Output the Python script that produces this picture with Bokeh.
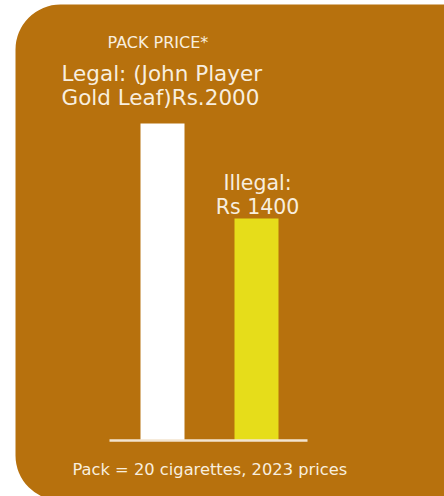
from bokeh.plotting import figure
from bokeh.models import Range1d, Label, BoxAnnotation
from bokeh.embed import file_html
from bokeh.resources import INLINE

# ---- data ----
categories = ["Legal", "Illegal"]
prices = [2000, 1400]
bar_colors = ["#FFFFFF", "#E6DD1A"]
title_text = "PACK PRICE*"
legal_lines = ["Legal: (John Player", "Gold Leaf)Rs.2000"]
illegal_lines = ["Illegal:", "Rs 1400"]
footer_text = "Pack = 20 cigarettes, 2023 prices"

# ---- layout ----
W, H = 444, 496
BG = "#B7710D"
TXT = "#F8EEDF"
FONT = "DejaVu Sans"

px_per_x = 94.0          # pixels per category step
x_start = -162.0 / px_per_x
x_end = x_start + W / px_per_x
k = 317.0 / max(prices)  # pixels per price unit
y_end = 440.0 / k
y_start = y_end - H / k

def px2x(px):
    return x_start + px / px_per_x

def px2y(py):
    return y_end - py / k

p = figure(width=W, height=H, output_backend="svg", toolbar_location=None,
           x_range=Range1d(x_start, x_end), y_range=Range1d(y_start, y_end),
           min_border=0, min_border_left=0, min_border_right=0,
           min_border_top=0, min_border_bottom=0)
p.axis.visible = False
p.grid.visible = False
p.outline_line_color = None
p.background_fill_color = "white"
p.border_fill_color = "white"

bg = BoxAnnotation(left=px2x(15), right=px2x(520), top=px2y(4), bottom=px2y(500),
                   fill_color=BG, fill_alpha=1.0, line_color=None,
                   border_radius=45, level="underlay")
p.add_layout(bg)

xs = list(range(len(categories)))
p.vbar(x=xs, top=prices, bottom=0, width=44 / px_per_x, fill_color=bar_colors,
       line_color=None)

# baseline
p.segment(x0=[px2x(109)], y0=[0], x1=[px2x(307)], y1=[0],
          line_color="#F3E4CF", line_width=2.5)

def lab(text, px, py, size, align="left"):
    p.add_layout(Label(x=px2x(px), y=px2y(py), text=text, text_font=FONT,
                       text_font_size=f"{size}px", text_color=TXT,
                       text_align=align, text_baseline="middle"))

lab(title_text, 107, 42, 16)
lab(legal_lines[0], 61, 73, 21.5)
lab(legal_lines[1], 61, 97, 21.5)
lab(illegal_lines[0], 257, 182, 20.5, "center")
lab(illegal_lines[1], 257, 206, 20.5, "center")
lab(footer_text, 72, 469, 16.3)

open("out.html", "w").write(file_html(p, INLINE))
